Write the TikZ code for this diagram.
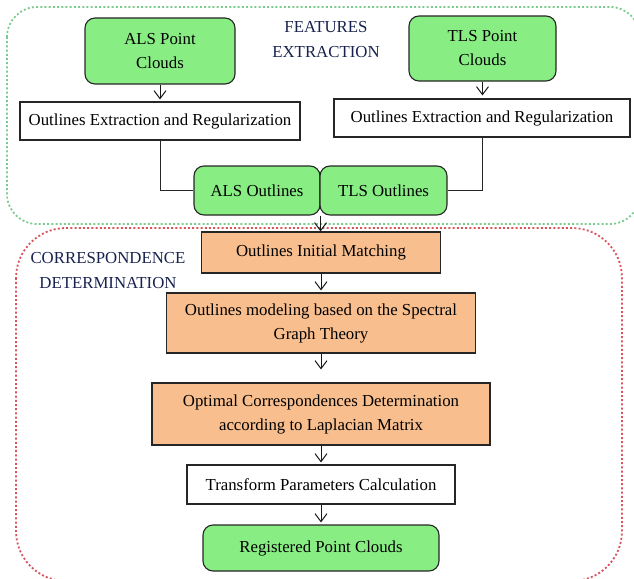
\documentclass[tikz,border=0pt]{standalone}
\usepackage{xcolor}
\usepackage{fontspec}
\setmainfont{Liberation Serif}
\usepackage{tikz}
\usetikzlibrary{positioning, arrows.meta, calc}

\definecolor{boxgreen}{HTML}{88EE84}
\definecolor{boxorange}{HTML}{F8BE8E}
\definecolor{zonegreen}{HTML}{7CCB8E}
\definecolor{zonered}{HTML}{D9545C}
\definecolor{titleblue}{HTML}{17224E}

\begin{document}
\begin{tikzpicture}[x=1pt, y=-1pt, >={Straight Barb[length=8pt,width=12pt]},
  stepnode/.style={draw=black!85, line width=1.1pt, align=center, inner sep=0pt, font=\fontsize{16.8}{24}\selectfont, text=black},
  ptcloud/.style={stepnode, fill=boxgreen, rounded corners=10pt},
  proc/.style={stepnode, fill=white},
  corr/.style={stepnode, fill=boxorange},
  zone/.style={line width=1.8pt, dash pattern=on 2pt off 2.2pt},
  zonetitle/.style={align=center, font=\fontsize{16.8}{25}\selectfont, text=titleblue},
  flow/.style={->, line width=1pt, draw=black!90}]

  \useasboundingbox (0,0) rectangle (634,578);

  % dotted zones
  \draw[zone, zonegreen, rounded corners=30pt] (7,7) rectangle (640,224);
  \draw[zone, zonered, rounded corners=50pt] (16,228) rectangle (622,581);

  \node[zonetitle] (feat-title) at (326,40) {FEATURES\\EXTRACTION};
  \node[zonetitle] (corr-title) at (108,271) {CORRESPONDENCE\\DETERMINATION};

  % features extraction
  \node[ptcloud, minimum width=150pt, minimum height=66pt] (als-pc) at (160,51) {ALS Point\\Clouds};
  \node[ptcloud, minimum width=147pt, minimum height=65pt] (tls-pc) at (482.5,48.5) {TLS Point\\Clouds};

  \node[proc, minimum width=280pt, minimum height=38pt] (als-ext) at (160,121) {Outlines Extraction and Regularization};
  \node[proc, minimum width=296pt, minimum height=38pt] (tls-ext) at (482,118) {Outlines Extraction and Regularization};

  \node[ptcloud, minimum width=126pt, minimum height=49pt] (als-out) at (257,190.5) {ALS Outlines};
  \node[ptcloud, minimum width=127pt, minimum height=49pt] (tls-out) at (383.5,190.5) {TLS Outlines};

  % correspondence determination
  \node[corr, minimum width=239pt, minimum height=41pt] (init-match) at (321,252.5) {Outlines Initial Matching};
  \node[corr, minimum width=309pt, minimum height=60pt] (modeling) at (321,323) {Outlines modeling based on the Spectral\\Graph Theory};
  \node[corr, minimum width=338pt, minimum height=62pt] (optimal) at (321,414) {Optimal Correspondences Determination\\according to Laplacian Matrix};
  \node[proc, minimum width=268pt, minimum height=39pt] (transform) at (321,484.5) {Transform Parameters Calculation};
  \node[ptcloud, minimum width=236pt, minimum height=46pt] (registered) at (321,548) {Registered Point Clouds};

  \draw[flow, shorten >=2pt] (als-pc) -- (als-ext);
  \draw[flow, shorten >=3pt] (tls-pc.south) -- (tls-pc.south |- tls-ext.north);
  \draw[line width=1pt, draw=black!85] (als-ext.south) |- (als-out.west);
  \draw[line width=1pt, draw=black!85] (tls-ext.south) |- (tls-out.east);
  \draw[flow] (als-out.south east) -- (als-out.south east |- init-match.north);
  \draw[flow, shorten >=2pt] (init-match) -- (modeling);
  \draw[flow, shorten >=13pt] (modeling) -- (optimal);
  \draw[flow, shorten >=2pt] (optimal) -- (transform);
  \draw[flow, shorten >=2pt] (transform) -- (registered);

\end{tikzpicture}
\end{document}
